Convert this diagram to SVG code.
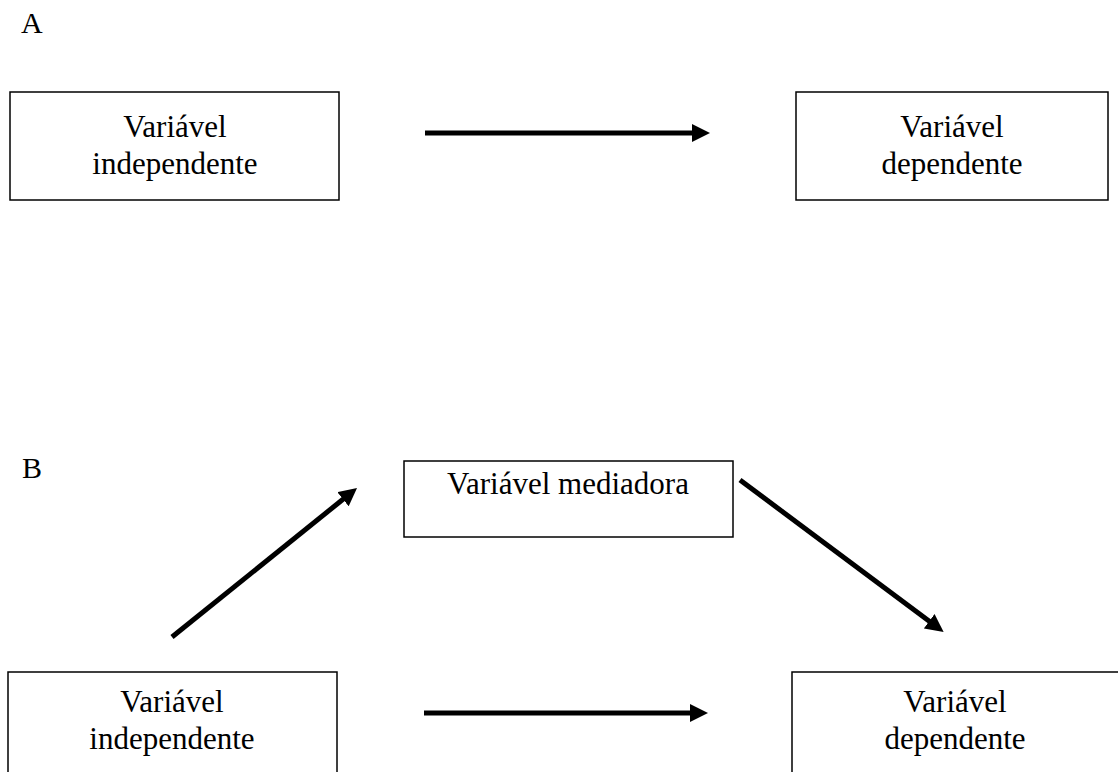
<svg xmlns="http://www.w3.org/2000/svg" width="1118" height="772" viewBox="0 0 1118 772">
<style>
.box{fill:#fff;stroke:#000;stroke-width:1.5}
.t{font-family:"Liberation Serif","Times New Roman",serif;font-size:31px;fill:#000;text-anchor:middle}
.lbl{font-family:"Liberation Serif","Times New Roman",serif;font-size:30px;fill:#000}
.c{stroke:#000;stroke-width:5;fill:none;marker-end:url(#ah)}
</style>
<defs>
<marker id="ah" viewBox="0 0 18 18" refX="6" refY="9" markerWidth="18" markerHeight="18" markerUnits="userSpaceOnUse" orient="auto">
<path d="M0,0 L18,9 L0,18 z" fill="#000"/>
</marker>
</defs>
<rect width="1118" height="772" fill="#fff"/>
<text class="lbl" x="21" y="33">A</text>
<text class="lbl" x="22" y="478">B</text>
<g id="a-indep">
<rect class="box" x="10" y="92" width="329" height="108"/>
<text class="t" x="175" y="137">Variável</text>
<text class="t" x="175" y="174">independente</text>
</g>
<g id="a-dep">
<rect class="box" x="796" y="92" width="312" height="108"/>
<text class="t" x="952" y="137">Variável</text>
<text class="t" x="952" y="174">dependente</text>
</g>
<g id="b-med">
<rect class="box" x="404" y="461" width="329" height="76"/>
<text class="t" x="568" y="494">Variável mediadora</text>
</g>
<g id="b-indep">
<rect class="box" x="8" y="672" width="329" height="120"/>
<text class="t" x="172" y="712">Variável</text>
<text class="t" x="172" y="749">independente</text>
</g>
<g id="b-dep">
<rect class="box" x="792" y="672" width="330" height="120"/>
<text class="t" x="955" y="712">Variável</text>
<text class="t" x="955" y="749">dependente</text>
</g>
<g id="connectors">
<line class="c" x1="425" y1="133" x2="698" y2="133"/>
<line class="c" x1="172" y1="637" x2="347.7" y2="495.5"/>
<line class="c" x1="740" y1="480" x2="934" y2="624.8"/>
<line class="c" x1="424" y1="713" x2="696" y2="713"/>
</g>
</svg>
